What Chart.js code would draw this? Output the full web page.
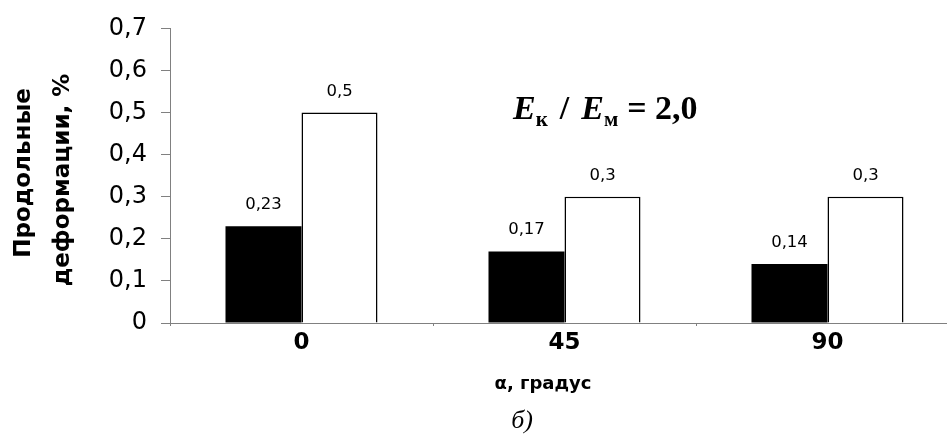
<!DOCTYPE html>
<html>
<head>
<meta charset="utf-8">
<script src="https://cdn.jsdelivr.net/npm/chart.js@4/dist/chart.umd.min.js"></script>
<style>
  html, body { margin: 0; padding: 0; background: #fff; overflow: hidden; }
  #wrap { width: 947px; height: 435px; overflow: hidden; position: relative; }
  #box { width: 965px; height: 435px; position: absolute; left: 0; top: 0; }
</style>
</head>
<body>
<div id="wrap"><div id="box"><canvas id="chart"></canvas></div></div>
<script>
const categories = ["0", "45", "90"];
const blackValues = [0.23, 0.17, 0.14];
const whiteValues = [0.5, 0.3, 0.3];
const yMin = 0;
const yMax = 0.7;
const yStep = 0.1;

const fmt = (v) => String(Math.round(v * 100) / 100).replace(".", ",");

// value labels over the bars
const barLabels = {
  id: "barLabels",
  afterDatasetsDraw(chart) {
    const ctx = chart.ctx;
    ctx.save();
    ctx.font = "16.5px 'DejaVu Sans'";
    ctx.fillStyle = "#000";
    ctx.textAlign = "center";
    ctx.textBaseline = "alphabetic";
    chart.data.datasets.forEach((ds, i) => {
      chart.getDatasetMeta(i).data.forEach((bar, j) => {
        ctx.fillText(fmt(ds.data[j]), bar.x, bar.y - 17);
      });
    });
    ctx.restore();
  },
};

// titles and the ratio note
const extraText = {
  id: "extraText",
  afterDraw(chart) {
    const ctx = chart.ctx;
    ctx.save();
    ctx.fillStyle = "#000";

    // y title, two lines
    ctx.font = "bold 23px 'DejaVu Sans'";
    ctx.textAlign = "center";
    ctx.textBaseline = "alphabetic";
    ctx.save();
    ctx.translate(30, 173);
    ctx.rotate(-Math.PI / 2);
    ctx.fillText("Продольные", 0, 0);
    ctx.restore();
    ctx.save();
    ctx.translate(69, 180);
    ctx.rotate(-Math.PI / 2);
    ctx.fillText("деформации, %", 0, 0);
    ctx.restore();

    // x title
    ctx.font = "bold 18px 'DejaVu Sans'";
    ctx.fillText("α, градус", 543, 389);

    // caption
    ctx.font = "italic 26px 'Liberation Serif'";
    ctx.fillText("б)", 522, 428);

    // E_к / E_м = 2,0
    ctx.textAlign = "left";
    const big = "bold italic 34px 'Liberation Serif'";
    const sub = "bold 21px 'Liberation Serif'";
    const plain = "bold 34px 'Liberation Serif'";
    const parts = [
      [big, "E", 0, 0],
      [sub, "к", 7, 12],
      [plain, "/", 0, 12],
      [big, "E", 0, 0],
      [sub, "м", 7, 9],
      [plain, "= 2,0", 0, 0],
    ];
    let x = 513;
    parts.forEach(([f, t, dy, gap]) => {
      ctx.font = f;
      ctx.fillText(t, x, 119 + dy);
      x += ctx.measureText(t).width + gap;
    });
    ctx.restore();
  },
};

new Chart(document.getElementById("chart"), {
  type: "bar",
  data: {
    labels: categories,
    datasets: [
      {
        data: blackValues,
        backgroundColor: "#000",
        borderColor: "#000",
        borderWidth: 0,
      },
      {
        data: whiteValues,
        backgroundColor: "#fff",
        borderColor: "#000",
        borderWidth: 1.5,
      },
    ],
  },
  options: {
    responsive: true,
    maintainAspectRatio: false,
    animation: false,
    devicePixelRatio: 1,
    categoryPercentage: 0.578,
    barPercentage: 1,
    layout: { padding: { top: 22, right: 6, left: 0, bottom: 0 } },
    plugins: {
      legend: { display: false },
      tooltip: { enabled: false },
    },
    scales: {
      x: {
        grid: { drawOnChartArea: false, tickLength: 3, color: "#808080", offset: true },
        border: { color: "#808080", width: 1 },
        ticks: {
          color: "#000",
          padding: 3,
          font: { family: "DejaVu Sans", size: 23, weight: "bold" },
        },
        afterFit: (s) => { s.height = 112; },
      },
      y: {
        min: yMin,
        max: yMax,
        grid: { drawOnChartArea: false, tickLength: 9, color: "#808080" },
        border: { color: "#808080", width: 1 },
        ticks: {
          stepSize: yStep,
          color: "#000",
          padding: 14,
          font: { family: "DejaVu Sans", size: 24 },
          callback: (v) => fmt(v),
        },
        afterFit: (s) => { s.width = 170; },
      },
    },
  },
  plugins: [barLabels, extraText],
});
</script>
</body>
</html>
